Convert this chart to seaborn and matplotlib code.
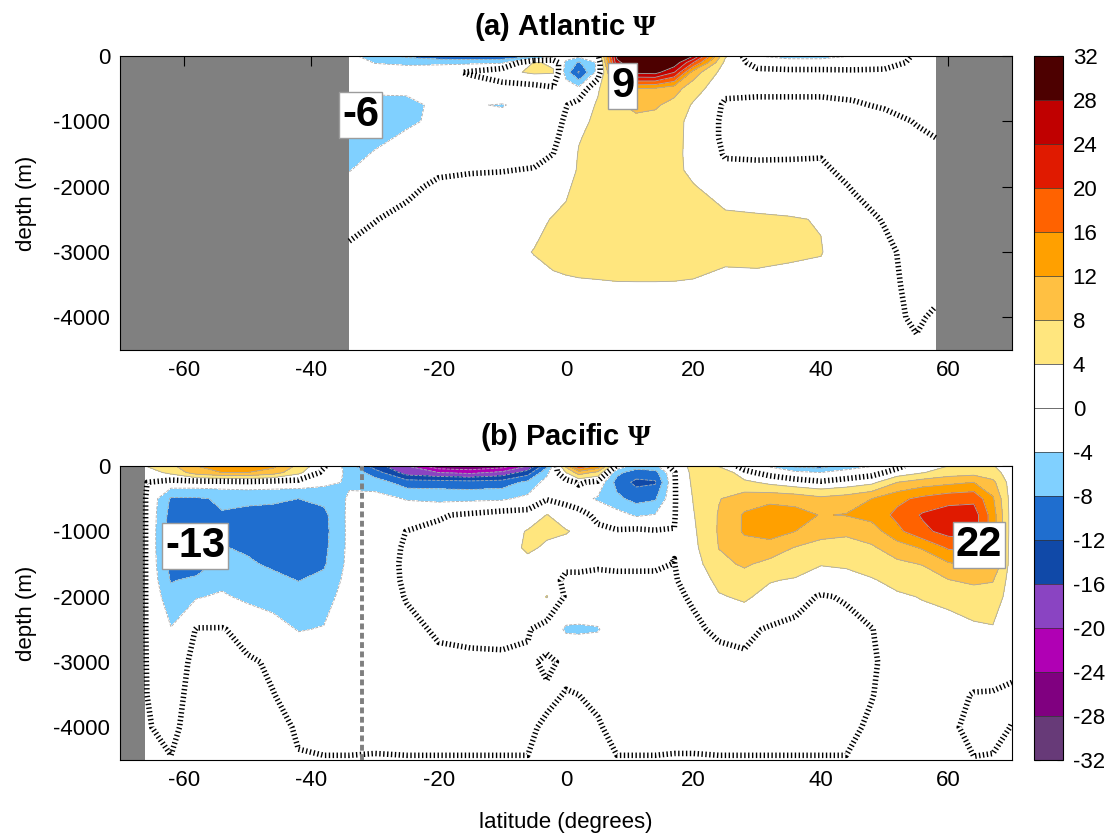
import numpy as np
import matplotlib
matplotlib.use("Agg")
import matplotlib.pyplot as plt
from matplotlib.colors import ListedColormap, BoundaryNorm
from matplotlib.cm import ScalarMappable
import seaborn as sns

# ---------------------------------------------------------------------------
# Meridional overturning streamfunction (Sv) on a latitude / depth grid
# ---------------------------------------------------------------------------
depth_m = np.array([0, 100, 250, 500, 750, 1000, 1250, 1500, 1750, 2000,
                    2500, 3000, 3500, 4000, 4500])

# Atlantic: one list per latitude, values from the surface to 4500 m
atl_lat = np.array([-34, -30, -25, -20, -15, -10, -5, -2, 0, 2, 5, 8, 11, 14,
                    17, 20, 25, 30, 35, 40, 45, 50, 55, 58])
atl_psi_by_lat = [
    [-3, -2, -2, -3.5, -5, -6, -5.5, -4.8, -4.1, -3, -1.2, 0.6, 1.5, 1.2, 0.5],
    [-6, -4.2, -2, -3.5, -4.8, -5.2, -4.6, -3.8, -2.8, -1.8, -0.1, 1, 1.5, 1.2, 0.5],
    [-9, -4.8, -2, -3.6, -4.5, -4.4, -3.6, -2.8, -1.8, -0.7, 0.8, 1.5, 1.8, 1.4, 0.5],
    [-11, -4.8, -1.5, -3, -3.6, -3.5, -2.8, -1.8, -0.5, 0.6, 1.6, 2, 2, 1.5, 0.5],
    [-12, -4.8, 0.5, -2.5, -3.8, -3.3, -2.5, -1.5, -0.2, 0.8, 2, 2.5, 2.2, 1.6, 0.5],
    [-11.5, -4.6, 3, -2, -4.15, -3.2, -2.3, -1.2, -0.1, 1, 2.4, 3, 2.5, 1.8, 0.5],
    [-9, 4.3, 4.6, -1.5, -3, -2.8, -2, -1, 0.2, 1.5, 3.2, 4.1, 3.1, 2, 0.5],
    [-6, 3.5, 4.3, -0.5, -1.5, -1.5, -0.8, 0, 1, 2.5, 4.2, 4.8, 3.4, 2.2, 0.6],
    [-2, -5, -6, -1.5, -0.2, 0.6, 1.2, 2, 2.8, 3.5, 4.6, 5.2, 3.5, 2.4, 0.6],
    [-3, -8.5, -12.5, -3, 1.5, 3, 3.8, 4.2, 4.3, 4.8, 5.5, 5.5, 3.6, 2.5, 0.6],
    [-1, -3.5, -2.5, 3.5, 4.5, 4.8, 5, 5, 5, 5.2, 5.8, 5.6, 3.7, 2.6, 0.6],
    [29, 27, 18, 9, 7.5, 6.5, 6, 5.8, 5.6, 5.6, 6, 5.8, 3.8, 2.7, 0.6],
    [31.5, 31.5, 29, 12, 9, 7, 6.3, 6, 5.8, 5.8, 6.2, 6, 3.8, 2.8, 0.6],
    [31.5, 31.5, 29.5, 11.5, 8.5, 6.8, 6.2, 6, 5.8, 5.8, 6.2, 6, 3.8, 2.8, 0.6],
    [31.5, 31, 24, 9.5, 6.8, 5.0, 4.9, 4.8, 4.8, 5.2, 6, 5.7, 3.8, 2.6, 0.6],
    [28, 20, 10, 5.8, 3.5, 3.0, 3.0, 3.0, 3.2, 4.2, 5.5, 5.4, 3.7, 2.5, 0.6],
    [4.5, 3, 2, 0.8, -0.5, -0.8, -0.8, -0.3, 0.8, 2.5, 4.6, 4.5, 3.4, 2.2, 0.5],
    [-4, -1.5, 1, 0.8, -0.8, -1, -0.8, -0.3, 0.5, 1.8, 4.5, 4.7, 3.3, 2, 0.5],
    [-5.5, -2, 0.8, 0.7, -0.7, -1, -0.8, -0.2, 0.4, 1.2, 4.3, 4.5, 3, 1.8, 0.5],
    [-5.5, -2, 0.8, 0.6, -0.6, -0.9, -0.6, -0.1, 0.3, 0.8, 3.8, 4.2, 2.7, 1.6, 0.4],
    [-4, -1.5, 0.5, 0.5, -0.2, -0.8, -1, -0.8, -0.5, -0.1, 0.6, 1.2, 1.0, 0.6, 0.2],
    [-2.5, -1, 0.5, 0.5, 0.2, -0.6, -1, -1, -0.9, -0.6, -0.1, 0.3, 0.3, 0.2, 0.1],
    [0.5, 0.5, 0.5, 0.4, 0.3, 0.1, -0.3, -0.6, -0.8, -0.8, -0.7, -0.5, -0.3, -0.1, 0.1],
    [0.5, 0.5, 0.5, 0.5, 0.4, 0.3, 0, -0.4, -0.6, -0.7, -0.6, -0.4, -0.2, 0.1, 0.2],
]

# Pacific: one list per latitude, values from the surface to 4500 m
pac_lat = np.array([-66, -62, -58, -54, -50, -46, -42, -38, -34, -30, -25, -20,
                    -15, -10, -6, -3, 0, 2, 5, 8, 11, 14, 17, 20, 24, 28, 32,
                    36, 40, 44, 48, 52, 56, 60, 64, 67, 70])
pac_psi_by_lat = [
    [4, 2, 0.1, 0.05, 0.05, 0.05, 0.05, 0.05, 0.05, 0.05, 0.05, 0.05, 0.05, 0.1, 0.2],
    [7, 5, -1.5, -8.5, -9.5, -10, -10, -9.5, -8.3, -6.5, -3.8, -1.6, -0.8, -0.3, 0.05],
    [12, 10, -1.5, -8.5, -10, -11.5, -13, -10.5, -7, -4.3, 0.2, 0.8, 0.8, 0.6, 0.3],
    [15, 12, -1.5, -7.5, -8.2, -8.3, -7.8, -6.5, -5, -3.5, 0.2, 0.8, 0.7, 0.5, 0.3],
    [15, 12, -1, -7.5, -8.6, -9, -8.5, -7.5, -6.2, -4.8, -1, 0.3, 0.6, 0.4, 0.2],
    [13, 10, -1.5, -7.5, -9, -9.5, -9.2, -8.6, -7, -5.5, -2.5, -0.3, 0.05, 0.3, 0.2],
    [7, 5, -1.5, -8, -9.8, -10.2, -10, -9.5, -8.1, -6.5, -4.2, -1.5, -0.6, -0.1, 0.05],
    [0.5, -1, -3, -7, -9, -9.3, -9, -8.5, -7, -5.5, -3.8, -1.5, -0.6, -0.3, 0.05],
    [-6, -5, -4.5, -3.5, -3, -3, -3, -2.8, -2.5, -2.2, -1.5, -0.8, -0.5, -0.3, 0.05],
    [-14, -10, -6, -2.5, -1.8, -1.5, -1.3, -1.2, -1.1, -1, -0.8, -0.6, -0.4, -0.2, 0.05],
    [-20, -18, -10, -4.3, -1.5, 0.05, 0.3, 0.4, 0.3, 0.1, -0.4, -0.6, -0.5, -0.3, 0.05],
    [-27, -20, -10, -5, -0.3, 0.6, 0.8, 0.9, 0.9, 0.7, 0.2, -0.3, -0.5, -0.3, 0.05],
    [-28, -21, -10.5, -4.8, 0.5, 1, 1.2, 1.3, 1.2, 1, 0.4, -0.3, -0.5, -0.3, 0.05],
    [-26, -19, -10, -4.6, 1.5, 2, 2.2, 2.2, 2, 1.6, 0.5, -0.3, -0.5, -0.3, 0.05],
    [-20, -14, -7, -3, 1.5, 4.3, 4.6, 3, 2, 1.2, 0.3, -0.5, -0.5, -0.3, 0.05],
    [-9, -5, -2.5, -0.3, 4.1, 4.6, 3.5, 1.5, 1.2, 4.2, -1.5, 0.5, -0.4, 0.3, 0.2],
    [9, 4, -1.5, -1.5, 2.5, 4.2, 3, 0.5, -0.5, -0.5, -4.5, -0.5, 0.1, 0.5, 0.2],
    [21, 10, 0.5, -2.5, 1.5, 3.5, 2.5, 0.6, -0.6, -0.8, -4.6, -0.6, 0, 0.3, 0.2],
    [15, 7, -1, -4.5, -1, 0.8, 0.8, 0.3, -0.6, -0.9, -4.3, -0.7, -0.2, 0.1, 0.05],
    [-1, -7, -9.5, -7, -2.5, 0.3, 0.8, 0.4, -0.5, -0.9, -1.5, -0.8, -0.6, -0.3, 0.05],
    [-6, -10, -13, -9.5, -4.5, 0.8, 0.7, 0.4, -0.5, -0.9, -1, -0.8, -0.6, -0.3, 0.05],
    [-5, -9.5, -12.5, -8.5, -3.8, 0.3, 0.8, 0.3, -0.4, -0.8, -1, -0.8, -0.6, -0.3, 0.05],
    [2, -0.2, -0.3, -0.3, -0.2, 0.05, 0.1, -0.05, -0.2, -0.3, -0.5, -0.5, -0.4, -0.2, 0.05],
    [5, 5.2, 4.8, 4.2, 3.8, 3.4, 3.0, 2.2, 1.0, 0.2, -0.3, -0.4, -0.4, -0.2, 0.05],
    [3.5, 8, 6.5, 7.8, 8.3, 8.4, 8.1, 7, 5.2, 3.6, 0.3, -0.5, -0.5, -0.3, 0.05],
    [-1.5, 1, 5, 10, 12.5, 12.5, 10.5, 8.5, 6.5, 4.7, 0.6, -0.4, -0.6, -0.3, 0.05],
    [-4.5, -1.5, 3, 11, 14, 14, 10, 7, 4.3, 2.5, -0.3, -0.5, -0.6, -0.3, 0.05],
    [-9, -3, 1.5, 10.5, 13.5, 12, 7.8, 6.5, 3.5, 0.8, -0.5, -0.5, -0.6, -0.3, 0.05],
    [-10, -4, 0.5, 9, 11.8, 9, 7, 4.3, 1.5, -0.2, -0.6, -0.5, -0.6, -0.3, 0.05],
    [-6, -2.5, 1.5, 10, 12.2, 8.5, 7, 4.8, 2, 0.2, -0.6, -0.5, -0.6, -0.3, 0.05],
    [-4.2, -1.5, 3, 12, 13.5, 10, 7.5, 5.5, 3.7, 2, -0.1, -0.3, -0.05, 0.2, 0.2],
    [-1, 1.5, 8, 15, 17, 15, 10, 7.2, 5, 3.5, 1.8, 1, 0.6, 0.4, 0.2],
    [2.5, 3.8, 10, 17, 20.5, 19, 12.5, 8.2, 6, 4.2, 2.5, 1.5, 0.8, 0.4, 0.2],
    [4, 6, 11, 18.5, 22, 21.5, 16.5, 11.5, 7.8, 4.8, 2.8, 1.5, 0.6, 0.3, 0.2],
    [4.5, 6.5, 12, 19, 22, 22, 17, 13, 9, 5.5, 3.5, 1.2, -0.1, -0.4, 0.05],
    [4.2, 5.5, 9, 12.5, 14, 14, 13, 12, 8.2, 6.5, 3.6, 1.5, -0.2, -0.4, 0.1],
    [2, 2, 2, 2, 2, 2, 2, 2, 2, 1.8, 1.2, 0.5, -0.3, 0.05, 0.3],
]

# Cell extremes written on the panels: (value, latitude, depth)
atl_labels = [(-6, -32.2, 900), (9, 8.9, 460)]
pac_labels = [(-13, -58.2, 1230), (22, 64.8, 1210)]

# Southern limit of the Pacific sector, dashed on panel (b)
pac_boundary_lat = -32

psi_levels = np.arange(-32, 33, 4)
band_colors = ["#673a78", "#800080", "#b000b4", "#8a44c2", "#1049a8", "#1f6ecf",
               "#80d0ff", "#ffffff", "#ffffff", "#ffe67e", "#ffc042", "#ffa000",
               "#ff6200", "#e01a00", "#c00000", "#4d0000"]

# ---------------------------------------------------------------------------
sns.set_theme(style="white")
plt.rcParams["font.family"] = ["Liberation Sans", "DejaVu Sans"]
plt.rcParams["mathtext.fontset"] = "custom"
plt.rcParams["mathtext.bf"] = "Liberation Serif:bold"
plt.rcParams["mathtext.rm"] = "Liberation Serif"
plt.rcParams["axes.unicode_minus"] = False
for key in ("text.color", "axes.labelcolor", "xtick.color", "ytick.color"):
    plt.rcParams[key] = "black"

cmap = ListedColormap(sns.color_palette(band_colors, n_colors=len(band_colors)))
norm = BoundaryNorm(psi_levels, cmap.N)

fig = plt.figure(figsize=(11.12, 8.36), dpi=100)
W, H = 1112.0, 836.0
ax_a = fig.add_axes([120 / W, 1 - 350 / H, 892 / W, 294 / H])
ax_b = fig.add_axes([120 / W, 1 - 760 / H, 892 / W, 294 / H])
cax = fig.add_axes([1034 / W, 1 - 760 / H, 29 / W, 704 / H])


def draw_basin(ax, lat, psi_by_lat, labels, title):
    psi = np.array(psi_by_lat, dtype=float).T
    depth = -depth_m
    ax.set_facecolor("#808080")
    ax.contourf(lat, depth, psi, levels=psi_levels, cmap=cmap, norm=norm)
    ax.contour(lat, depth, psi, levels=psi_levels[psi_levels != 0],
               colors="#a9a9a9", linewidths=0.6)
    zero = ax.contour(lat, depth, psi, levels=[0], colors="black", linewidths=4.0)
    zero.set_linestyle((0, (0.25, 0.45)))
    zero.set_capstyle("butt")

    for value, x, d in labels:
        ax.text(x, -d, f"{value:d}", fontsize=30, fontweight="bold",
                ha="center", va="center", zorder=6,
                bbox=dict(boxstyle="square,pad=0.07", fc="white",
                          ec="#9c9c9c", lw=1.0))

    ax.set_xlim(-70, 70)
    ax.set_ylim(-4500, 0)
    ax.set_xticks(np.arange(-60, 61, 20))
    ax.set_yticks([-4000, -3000, -2000, -1000, 0])
    ax.tick_params(direction="in", top=True, right=True, length=7, width=0.8,
                   labelsize=16, colors="black", pad=7)
    for s in ax.spines.values():
        s.set_color("black")
        s.set_linewidth(0.8)
    ax.set_ylabel("depth (m)", fontsize=16, labelpad=12)
    ax.set_title(title, fontsize=21, fontweight="bold", pad=15)


draw_basin(ax_a, atl_lat, atl_psi_by_lat, atl_labels,
           r"(a) Atlantic $\mathbf{\Psi}$")
draw_basin(ax_b, pac_lat, pac_psi_by_lat, pac_labels,
           r"(b) Pacific $\mathbf{\Psi}$")
ax_b.axvline(pac_boundary_lat, color="#7f7f7f", lw=2.8,
             linestyle=(0, (1.5, 0.9)), zorder=4)
ax_b.set_xlabel("latitude (degrees)", fontsize=16, labelpad=15)

cb = fig.colorbar(ScalarMappable(norm=norm, cmap=cmap), cax=cax,
                  ticks=psi_levels, drawedges=True)
cb.dividers.set_color("#333333")
cb.dividers.set_linewidth(0.5)
cb.outline.set_linewidth(0.8)
cb.outline.set_edgecolor("black")
cb.ax.tick_params(direction="in", length=4, width=0.8, left=True, right=True,
                  labelsize=16, pad=7, colors="black")

fig.savefig("out.png", dpi=100)
